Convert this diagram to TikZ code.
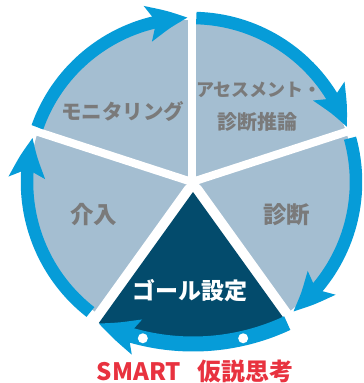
\documentclass[tikz,border=0pt]{standalone}
\usepackage{fontspec}
\newfontfamily\jp{Noto Sans CJK JP}
\usetikzlibrary{arrows.meta,bending,calc}
\definecolor{lightsec}{HTML}{A4BED1}
\definecolor{bandblue}{HTML}{069CD8}
\definecolor{darksec}{HTML}{034B6C}
\definecolor{labelgray}{HTML}{7A7A7A}
\definecolor{redtxt}{HTML}{E8323F}
\begin{document}
\begin{tikzpicture}[x=1pt,y=1pt,
  band/.style={draw=bandblue, line width=12.5pt, -{Stealth[length=40pt,width=35pt,inset=8pt,bend]}},
  gapline/.style={draw=white, line width=8pt},
  lab/.style={font=\jp\bfseries\fontsize{#1}{#1}\selectfont, text=labelgray, inner sep=0pt},
  redlab/.style={font=\jp\bfseries\fontsize{24}{24}\selectfont, text=redtxt, inner sep=0pt},
]
\useasboundingbox (0,0) rectangle (364,383);
\coordinate (C) at (192,201);
\coordinate (B) at (193,262);
\coordinate (A) at (193,191);
% light sectors
\fill[lightsec] (C) circle (162);
% white halo around the dark sector
\path[draw=white, fill=white, line width=20pt, line join=round]
  (A) -- ($(B)+(-115:223)$) arc[start angle=-115, end angle=-65, radius=223] -- cycle;
% gaps between light sectors
\foreach \a in {90,18,162} \draw[gapline] (C) -- ++(\a:180);
% dark sector
\fill[darksec] (A) -- ($(B)+(-115:223)$) arc[start angle=-115, end angle=-65, radius=223] -- cycle;
% cycle arrows
\draw[band] ($(C)+(160.5:164)$) arc[start angle=160.5, end angle=91.5, radius=164];
\draw[band] ($(C)+(88.5:164)$) arc[start angle=88.5, end angle=19.5, radius=164];
\draw[band] ($(C)+(15.5:164)$) arc[start angle=15.5, end angle=-52, radius=164];
\draw[band, line width=15pt] ($(B)+(-65:223)$) arc[start angle=-65, end angle=-115, radius=223];
\draw[band] ($(C)+(232:165)$) arc[start angle=232, end angle=164.5, radius=165];
% white dots
\fill[white] ($(B)+(-103:223)$) circle (5);
\fill[white] ($(B)+(-77:223)$) circle (5);
% labels
\node[lab=20.5] (mon) at (122.5,271) {モニタリング};
\node[lab=18] (ase) at (259,293) {アセスメント・};
\node[lab=20] (suiron) at (257.5,261) {診断推論};
\node[lab=23.5] (kai) at (93.5,168) {介入};
\node[lab=23.5] (shindan) at (286.5,168) {診断};
\node[lab=23, text=white] (goal) at (190,92) {ゴール設定};
\node[redlab] (smart) at (139,11) {SMART};
\node[redlab] (kasetsu) at (245.5,12) {仮説思考};
\end{tikzpicture}
\end{document}
